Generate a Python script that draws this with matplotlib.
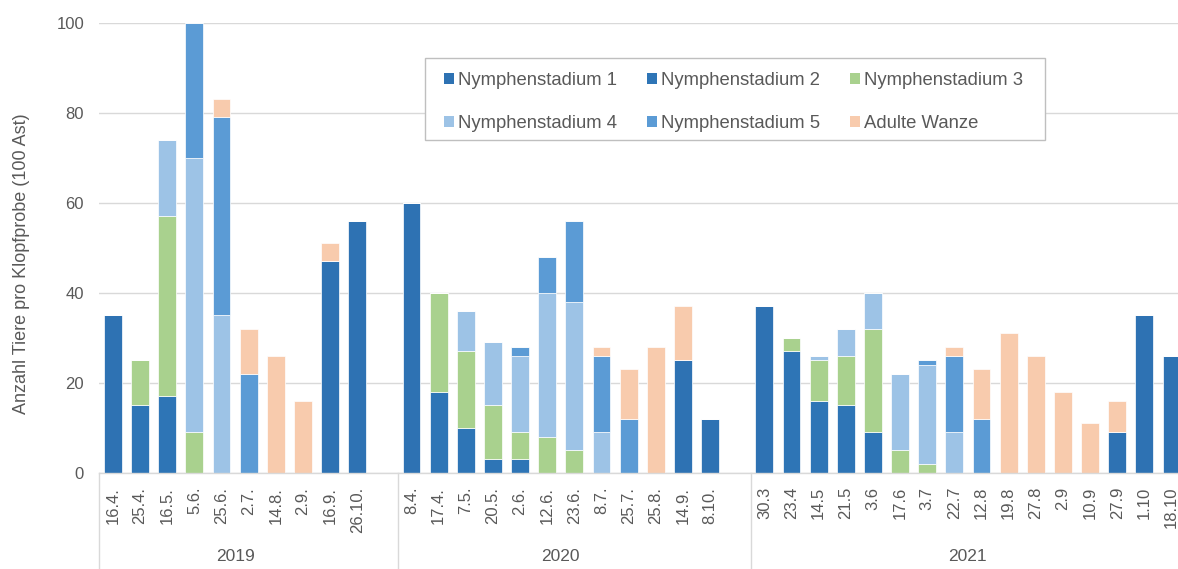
import matplotlib

matplotlib.use("Agg")
import matplotlib.pyplot as plt
import matplotlib.transforms as mtransforms
import numpy as np
from matplotlib.patches import Patch, Rectangle

plt.rcParams["font.family"] = ["Liberation Sans", "DejaVu Sans"]

GREY = "#595959"
W, H = 1178, 569

# Probetermine je Jahr (leerer Platz nach jedem Jahr wie im Original)
dates_2019 = ["16.4.", "25.4.", "16.5.", "5.6.", "25.6.", "2.7.", "14.8.",
              "2.9.", "16.9.", "26.10."]
dates_2020 = ["8.4.", "17.4.", "7.5.", "20.5.", "2.6.", "12.6.", "23.6.",
              "8.7.", "25.7.", "25.8.", "14.9.", "8.10."]
dates_2021 = ["30.3", "23.4", "14.5", "21.5", "3.6", "17.6", "3.7", "22.7",
              "12.8", "19.8", "27.8", "2.9", "10.9", "27.9", "1.10", "18.10"]
years = ["2019", "2020", "2021"]

# Werte je Stadium (2019 | 2020 | 2021)
n1 = [35, 0, 0, 0, 0, 0, 0, 0, 47, 56,
      60, 0, 0, 0, 0, 0, 0, 0, 0, 0, 25, 12,
      37, 0, 0, 0, 0, 0, 0, 0, 0, 0, 0, 0, 0, 9, 35, 26]
n2 = [0, 15, 17, 0, 0, 0, 0, 0, 0, 0,
      0, 18, 10, 3, 3, 0, 0, 0, 0, 0, 0, 0,
      0, 27, 16, 15, 9, 0, 0, 0, 0, 0, 0, 0, 0, 0, 0, 0]
n3 = [0, 10, 40, 9, 0, 0, 0, 0, 0, 0,
      0, 22, 17, 12, 6, 8, 5, 0, 0, 0, 0, 0,
      0, 3, 9, 11, 23, 5, 2, 0, 0, 0, 0, 0, 0, 0, 0, 0]
n4 = [0, 0, 17, 61, 35, 0, 0, 0, 0, 0,
      0, 0, 9, 14, 17, 32, 33, 9, 0, 0, 0, 0,
      0, 0, 1, 6, 8, 17, 22, 9, 0, 0, 0, 0, 0, 0, 0, 0]
n5 = [0, 0, 0, 30, 44, 22, 0, 0, 0, 0,
      0, 0, 0, 0, 2, 8, 18, 17, 12, 0, 0, 0,
      0, 0, 0, 0, 0, 0, 1, 17, 12, 0, 0, 0, 0, 0, 0, 0]
adult = [0, 0, 0, 0, 4, 10, 26, 16, 4, 0,
         0, 0, 0, 0, 0, 0, 0, 2, 11, 28, 12, 0,
         0, 0, 0, 0, 0, 0, 0, 2, 11, 31, 26, 18, 11, 7, 0, 0]

series = [
    ("Nymphenstadium 1", n1, "#2E72B3"),
    ("Nymphenstadium 2", n2, "#2E75B6"),
    ("Nymphenstadium 3", n3, "#A9D18E"),
    ("Nymphenstadium 4", n4, "#9DC3E6"),
    ("Nymphenstadium 5", n5, "#5B9BD5"),
    ("Adulte Wanze", adult, "#F8CBAD"),
]

# x-Positionen: ein leerer Slot am Ende jedes Jahres
groups = [dates_2019, dates_2020, dates_2021]
xpos, labels, bounds = [], [], [-0.5]
start = 0
for g in groups:
    xpos += list(range(start, start + len(g)))
    labels += g
    start += len(g) + 1
    bounds.append(start - 0.5)
xpos = np.array(xpos)

fig = plt.figure(figsize=(W / 100, H / 100), dpi=100)
ax = fig.add_axes([99.4 / W, 96 / H, 1 - 99.4 / W, 450.3 / H])

bottom = np.zeros(len(xpos))
for name, vals, col in series:
    vals = np.array(vals, dtype=float)
    ax.bar(xpos, vals, width=0.66, bottom=bottom, color=col,
           edgecolor="white", linewidth=0.5, label=name, zorder=3)
    bottom += vals

ax.set_xlim(-0.5, 39.24)
ax.set_ylim(0, 100)
ax.set_yticks(range(0, 101, 20))
ax.grid(axis="y", color="#D9D9D9", linewidth=1.0, zorder=0)
for s in ["left", "right", "top"]:
    ax.spines[s].set_visible(False)
ax.spines["bottom"].set_color("#D9D9D9")
ax.spines["bottom"].set_linewidth(1.0)
ax.spines["bottom"].set_zorder(4)

ax.set_xticks(xpos)
ax.set_xticklabels(labels, rotation=90, va="top", ha="center")
ax.tick_params(axis="x", length=0, pad=10, labelsize=12, colors=GREY)
ax.tick_params(axis="y", length=0, pad=11, labelsize=12, colors=GREY)

# Jahres-Trennlinien und Jahresbeschriftung
trans = mtransforms.blended_transform_factory(ax.transData, ax.transAxes)
for b in bounds[:-1]:
    ax.plot([b, b], [0, -0.25], transform=trans, color="#D9D9D9",
            linewidth=1.0, clip_on=False)
for i, y in enumerate(years):
    cx = (bounds[i] + bounds[i + 1] - 1) / 2
    ax.text(cx, -0.1865, y, transform=trans, ha="center", va="center",
            fontsize=12.5, color=GREY)

fig.text(22 / W, 1 - 264 / H, "Anzahl Tiere pro Klopfprobe (100 Ast)",
         rotation=90, ha="center", va="center", fontsize=13, color=GREY)

# Legende zeilenweise wie im Original, Rahmen separat
fig.patches.append(Rectangle((425 / W, 1 - 140 / H), 620 / W, 82 / H,
                             transform=fig.transFigure, facecolor="white",
                             edgecolor="#BFBFBF", linewidth=1.0, zorder=5))
handles = [Patch(facecolor=c, edgecolor="none") for _, _, c in series]
names = [n for n, _, _ in series]
order = [0, 3, 1, 4, 2, 5]
leg = fig.legend([handles[i] for i in order], [names[i] for i in order],
                 ncol=3, loc="upper left",
                 bbox_to_anchor=(444 / W, 1 - 72 / H),
                 fontsize=13.3, frameon=False,
                 handlelength=0.55, handleheight=0.55, handletextpad=0.22,
                 columnspacing=1.6, labelspacing=1.41, borderpad=0,
                 borderaxespad=0)
leg.set_zorder(6)
for t in leg.get_texts():
    t.set_color(GREY)

fig.savefig("out.png", dpi=100, facecolor="white")
